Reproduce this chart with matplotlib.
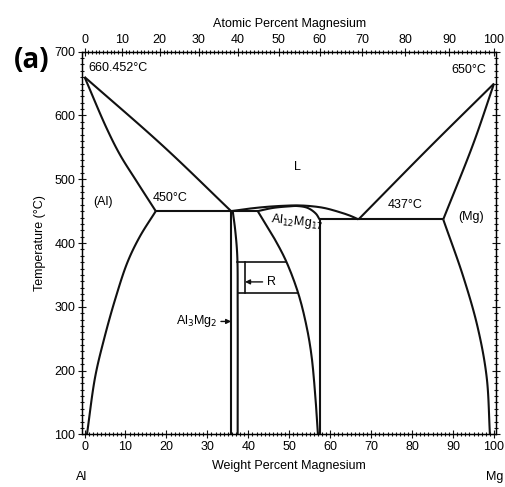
import numpy as np
import matplotlib
matplotlib.use("Agg")
from matplotlib import pyplot as plt
from matplotlib.ticker import MultipleLocator

plt.rcParams['font.family'] = ['Liberation Sans', 'DejaVu Sans']

# Al-Mg phase diagram, temperatures in deg C, compositions in wt% Mg
T_AL = 660.452
T_MG = 650
T_EUT_AL = 450
T_EUT_MG = 437

# (Al) side
al_liq_wt = [0, 19.2, 35.8]
al_liq_T = [T_AL, 552, 450]
al_sol_wt = [0, 5.4, 8.7, 12.7, 17.4]
al_sol_T = [T_AL, 580, 538, 497, 450]
al_solv_wt = [17.4, 13.5, 10.5, 7.5, 4.8, 2.6, 0.6]
al_solv_T = [450, 410, 370, 312, 250, 190, 100]

# Al3Mg2
al3mg2_left_wt = [35.8, 35.8]
al3mg2_left_T = [450, 100]
al3mg2_right_wt = [36.2, 36.8, 37.3, 37.4, 37.4]
al3mg2_right_T = [450, 420, 380, 300, 100]

# Al12Mg17
al12_left_wt = [42.3, 44.2, 46.1, 49.2, 52.2, 54.2, 55.4, 56.3, 57.0]
al12_left_T = [450, 430, 410, 372, 321, 270, 225, 165, 100]
al12_right_wt = [57.4, 57.4]
al12_right_T = [437, 100]
al12_sol_wt = [42.3, 46, 50, 52, 54.5, 56.5, 57.4]
al12_sol_T = [450, 455, 457.5, 458, 455, 446, 437]
mid_liq_wt = [35.8, 38, 41, 45, 49, 52, 55, 58.5, 62, 64.8, 66.9]
mid_liq_T = [450, 452, 454.5, 457, 458.5, 459, 458, 455, 449, 443, 437]

# R phase
r_T = [371, 321]
r_inner_wt = 39.2

# (Mg) side
mg_liq_wt = [66.9, 84.4, 100]
mg_liq_T = [437, 551, T_MG]
mg_sol_wt = [87.6, 94.9, 100]
mg_sol_T = [437, 555, T_MG]
mg_solv_wt = [87.6, 92.5, 96.0, 98.2, 99.0]
mg_solv_T = [437, 347, 268, 190, 100]

eut_al_wt = [17.4, 42.3]
eut_mg_wt = [57.4, 87.6]

at_major = np.arange(0, 101, 10)


def at_to_wt(at):
    at = np.asarray(at, dtype=float)
    return 100 * at * 24.305 / (at * 24.305 + (100 - at) * 26.982)


def smooth(xs, ys, n=20):
    # centripetal Catmull-Rom through the given points, in screen-ish units
    p = np.column_stack([np.asarray(xs, float) * 4.1, np.asarray(ys, float) * 0.64])
    if len(p) < 3:
        return np.asarray(xs, float), np.asarray(ys, float)
    p = np.vstack([2 * p[0] - p[1], p, 2 * p[-1] - p[-2]])
    out = []
    for i in range(1, len(p) - 2):
        p0, p1, p2, p3 = p[i - 1], p[i], p[i + 1], p[i + 2]
        t0 = 0.0
        t1 = t0 + np.linalg.norm(p1 - p0) ** 0.5
        t2 = t1 + np.linalg.norm(p2 - p1) ** 0.5
        t3 = t2 + np.linalg.norm(p3 - p2) ** 0.5
        t = np.linspace(t1, t2, n, endpoint=False)[:, None]
        a1 = (t1 - t) / (t1 - t0) * p0 + (t - t0) / (t1 - t0) * p1
        a2 = (t2 - t) / (t2 - t1) * p1 + (t - t1) / (t2 - t1) * p2
        a3 = (t3 - t) / (t3 - t2) * p2 + (t - t2) / (t3 - t2) * p3
        b1 = (t2 - t) / (t2 - t0) * a1 + (t - t0) / (t2 - t0) * a2
        b2 = (t3 - t) / (t3 - t1) * a2 + (t - t1) / (t3 - t1) * a3
        out.append((t2 - t) / (t2 - t1) * b1 + (t - t1) / (t2 - t1) * b2)
    out.append(p[-2][None, :])
    c = np.vstack(out)
    return c[:, 0] / 4.1, c[:, 1] / 0.64


fig = plt.figure(figsize=(5.05, 4.87), dpi=100)
ax = fig.add_axes([0.1633, 0.1082, 0.819, 0.7856])

lc = '#111111'
lw = 1.5
kw = dict(color=lc, lw=lw, solid_capstyle='butt', solid_joinstyle='round')

for xs, ys in [(al_liq_wt, al_liq_T), (al_sol_wt, al_sol_T), (al_solv_wt, al_solv_T),
               (al3mg2_left_wt, al3mg2_left_T), (al3mg2_right_wt, al3mg2_right_T),
               (al12_left_wt, al12_left_T), (al12_right_wt, al12_right_T),
               (al12_sol_wt, al12_sol_T), (mid_liq_wt, mid_liq_T),
               (mg_liq_wt, mg_liq_T), (mg_sol_wt, mg_sol_T), (mg_solv_wt, mg_solv_T)]:
    sx, sy = smooth(xs, ys)
    ax.plot(sx, sy, **kw)

ax.plot(eut_al_wt, [T_EUT_AL] * 2, **kw)
ax.plot(eut_mg_wt, [T_EUT_MG] * 2, **kw)

# R box between the Al3Mg2 and Al12Mg17 boundaries
for t in r_T:
    x0 = np.interp(t, al3mg2_right_T[::-1], al3mg2_right_wt[::-1])
    x1 = np.interp(t, al12_left_T[::-1], al12_left_wt[::-1])
    ax.plot([x0, x1], [t, t], color=lc, lw=1.2)
ax.plot([r_inner_wt, r_inner_wt], r_T, color=lc, lw=1.2)

ax.set_xlim(-0.5, 100.5)
ax.set_ylim(100, 700)

ax.xaxis.set_major_locator(MultipleLocator(10))
ax.xaxis.set_minor_locator(MultipleLocator(1))
ax.yaxis.set_major_locator(MultipleLocator(100))
ax.yaxis.set_minor_locator(MultipleLocator(10))
ax.tick_params(which='both', direction='inout', top=False, right=True,
               labelsize=9, width=0.8, color=lc)
ax.tick_params(which='major', length=6, pad=2)
ax.tick_params(which='minor', length=2.5)
for s in ax.spines.values():
    s.set_linewidth(1.0)
    s.set_color(lc)

ax.set_ylabel('Temperature (°C)', fontsize=9, labelpad=6)
ax.set_xlabel('Weight Percent Magnesium', fontsize=9, labelpad=5)

# atomic percent scale along the top
ax2 = ax.twiny()
ax2.set_xlim(ax.get_xlim())
ax2.set_xticks(at_to_wt(at_major))
ax2.set_xticklabels([str(a) for a in at_major])
ax2.set_xticks(at_to_wt(np.arange(0, 101, 1)), minor=True)
ax2.tick_params(which='both', direction='inout', labelsize=9, width=0.8, color=lc)
ax2.tick_params(which='major', length=6, pad=1)
ax2.tick_params(which='minor', length=2.5)
ax2.set_xlabel('Atomic Percent Magnesium', fontsize=9, labelpad=5)

# labels inside the diagram
fs = 9
ax.text(0.9, 674, '660.452°C', fontsize=fs, va='center', ha='left')
ax.text(98.2, 671, '650°C', fontsize=fs, va='center', ha='right')
ax.text(52, 519, 'L', fontsize=fs, va='center', ha='center')
ax.text(4.4, 465, '(Al)', fontsize=fs, va='center', ha='center')
ax.text(20.9, 470, '450°C', fontsize=fs, va='center', ha='center')
ax.text(78.3, 460, '437°C', fontsize=fs, va='center', ha='center')
ax.text(94.5, 441, '(Mg)', fontsize=fs, va='center', ha='center')
ax.text(51.8, 433, 'Al$_{12}$Mg$_{17}$', fontsize=fs, va='center', ha='center',
        rotation=-6)
ax.annotate('R', xy=(r_inner_wt, 339), xytext=(44.5, 339), fontsize=fs,
            va='center', ha='left',
            arrowprops=dict(arrowstyle='-|>', color=lc, lw=1.0,
                            mutation_scale=7, shrinkA=1, shrinkB=0))
ax.annotate('Al$_3$Mg$_2$', xy=(35.8, 277), xytext=(32.3, 277), fontsize=fs,
            va='center', ha='right',
            arrowprops=dict(arrowstyle='-|>', color=lc, lw=1.0,
                            mutation_scale=7, shrinkA=1, shrinkB=0))

fig.text(82 / 505, 1 - 477 / 487, 'Al', fontsize=9, ha='center', va='center')
fig.text(495 / 505, 1 - 477 / 487, 'Mg', fontsize=9, ha='center', va='center')
fig.text(32 / 505, 1 - 61 / 487, '(a)', fontsize=20, fontweight='bold',
         family=['Open Sans', 'DejaVu Sans'], ha='center', va='center')

fig.savefig('out.png', dpi=100)
